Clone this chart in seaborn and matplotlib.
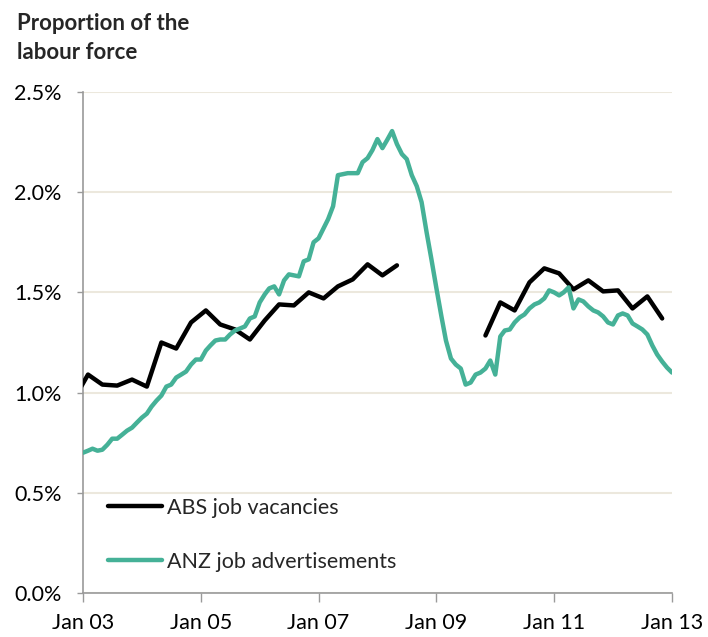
import matplotlib
matplotlib.use("Agg")
import matplotlib.pyplot as plt
import matplotlib.dates as mdates
from matplotlib.ticker import FuncFormatter, MultipleLocator
import pandas as pd
import seaborn as sns

# ABS job vacancies (quarterly, Feb/May/Aug/Nov), survey suspended mid-2008 to mid-2009
abs_dates_1 = pd.date_range("2002-11-01", "2008-05-01", freq="3MS")
abs_values_1 = [0.96, 1.09, 1.04, 1.035, 1.065, 1.03, 1.25, 1.22, 1.35, 1.41, 1.34,
                1.315, 1.265, 1.36, 1.44, 1.435, 1.50, 1.47, 1.53, 1.565, 1.64, 1.585, 1.635]
abs_dates_2 = pd.date_range("2009-11-01", "2012-11-01", freq="3MS")
abs_values_2 = [1.285, 1.45, 1.41, 1.55, 1.62, 1.595, 1.515, 1.56, 1.505, 1.51, 1.42, 1.48, 1.37]

# ANZ job advertisements (monthly, Jan 2003 - Jan 2013)
anz_dates = pd.date_range("2003-01-01", "2013-01-01", freq="MS")
anz_values = [
    0.70, 0.71, 0.72, 0.71, 0.715, 0.74, 0.77, 0.77, 0.79, 0.81, 0.825, 0.85,
    0.875, 0.895, 0.93, 0.96, 0.985, 1.03, 1.04, 1.075, 1.09, 1.105, 1.14, 1.165,
    1.165, 1.21, 1.235, 1.26, 1.265, 1.265, 1.29, 1.31, 1.32, 1.33, 1.37, 1.38,
    1.45, 1.49, 1.52, 1.53, 1.49, 1.56, 1.59, 1.585, 1.58, 1.655, 1.665, 1.75,
    1.77, 1.82, 1.865, 1.93, 2.085, 2.09, 2.095, 2.095, 2.095, 2.15, 2.17, 2.21,
    2.265, 2.22, 2.26, 2.305, 2.24, 2.19, 2.165, 2.085, 2.03, 1.95, 1.80, 1.665,
    1.52, 1.38, 1.26, 1.17, 1.14, 1.12, 1.04, 1.05, 1.09, 1.10, 1.12, 1.16,
    1.09, 1.28, 1.31, 1.315, 1.35, 1.375, 1.39, 1.42, 1.44, 1.45, 1.47, 1.51,
    1.50, 1.485, 1.50, 1.525, 1.42, 1.465, 1.455, 1.43, 1.41, 1.40, 1.38, 1.35,
    1.34, 1.385, 1.395, 1.385, 1.345, 1.33, 1.315, 1.29, 1.235, 1.19, 1.155, 1.125,
    1.10,
]

series_names = ["ABS job vacancies", "ANZ job advertisements"]
series_colors = ["#000000", "#45b197"]

frames = [
    pd.DataFrame({"date": abs_dates_1, "value": abs_values_1,
                  "series": series_names[0], "segment": "abs_a"}),
    pd.DataFrame({"date": abs_dates_2, "value": abs_values_2,
                  "series": series_names[0], "segment": "abs_b"}),
    pd.DataFrame({"date": anz_dates, "value": anz_values,
                  "series": series_names[1], "segment": "anz"}),
]
df = pd.concat(frames, ignore_index=True)

sns.set_theme(style="white")
plt.rcParams["font.family"] = ["Lato", "DejaVu Sans"]

fig = plt.figure(figsize=(7.08, 6.37), dpi=100)
ax = fig.add_axes([83 / 708, 1 - 593 / 637, 589 / 708, 501 / 637])

sns.lineplot(data=df, x="date", y="value", hue="series", units="segment",
             estimator=None, palette=dict(zip(series_names, series_colors)),
             hue_order=series_names, linewidth=3.2, ax=ax, zorder=3)

ax.set_xlim(pd.Timestamp("2003-01-01"), pd.Timestamp("2013-01-01"))
ax.set_ylim(0, 2.5)
ax.yaxis.set_major_locator(MultipleLocator(0.5))
ax.yaxis.set_major_formatter(FuncFormatter(lambda v, _: f"{v:.1f}%"))
ax.set_xticks(pd.date_range("2003-01-01", "2013-01-01", freq="24MS"))
ax.xaxis.set_major_formatter(mdates.DateFormatter("Jan %y"))
ax.set_xlabel("")
ax.set_ylabel("")

ax.grid(axis="y", color="#ece8dd", linewidth=1.5, zorder=0)
ax.grid(axis="x", visible=False)
for side in ("top", "right"):
    ax.spines[side].set_visible(False)
for side in ("left", "bottom"):
    ax.spines[side].set_color("#9a9a9a")
    ax.spines[side].set_linewidth(1.2)
ax.tick_params(axis="y", direction="out", length=4.5, width=1, color="#9a9a9a",
               pad=11, labelsize=15.5, labelcolor="black", left=True)
ax.tick_params(axis="x", direction="out", length=6.5, width=1, color="#9a9a9a",
               pad=8, labelsize=15.5, labelcolor="black", bottom=True)

old = ax.get_legend()
handles = old.legend_handles
labels = [t.get_text() for t in old.get_texts()]
ax.legend(handles, labels, loc="lower left", bbox_to_anchor=(0.042, 0.042),
          frameon=False, fontsize=15.5, handlelength=2.5, handletextpad=0.25,
          labelspacing=1.6, borderaxespad=0, borderpad=0)

fig.text(17 / 708, 1 - 13 / 637, "Proportion of the\nlabour force", ha="left", va="top",
         fontsize=16, fontweight="bold", linespacing=1.45)

fig.savefig("out.png", dpi=100)
